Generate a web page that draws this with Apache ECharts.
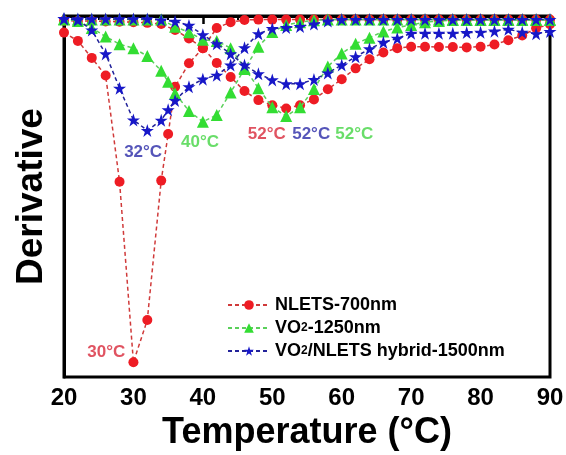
<!DOCTYPE html>
<html>
<head>
<meta charset="utf-8">
<script src="https://cdn.jsdelivr.net/npm/echarts@6/dist/echarts.min.js"></script>
<style>
html,body{margin:0;padding:0;background:#fff;}
#chart{width:566px;height:455px;}
</style>
</head>
<body>
<div id="chart"></div>
<script>
// Temperatures (°C)
const tempA = [20,22,24,26,28,30,32,34,35,36,38,40,42,44,46,48,50,52,54,56,58,60,62,64,66,68,70,72,74,76,78,80,82,84,86,88,90];
const tempB = [20,22,24,26,28,30,32,34,36,38,40,42,44,46,48,50,52,54,56,58,60,62,64,66,68,70,72,74,76,78,80,82,84,86,88,90];

// NLETS-700nm (two traces)
const nletsA = [-4.6,-6.9,-11.6,-16.5,-45.9,-95.9,-84.2,-45.6,-32.7,-19.6,-13.1,-8.9,-3.3,-1.7,-1.1,-1.0,-1.0,-1.0,-1.0,-1.0,-1.0,-1.0,-1.0,-1.0,-1.0,-1.0,-1.0,-1.0,-1.0,-1.0,-1.0,-1.0,-1.0,-1.0,-1.0,-1.0,-1.0];
const nletsB = [-1.3,-1.4,-1.4,-1.5,-1.6,-1.7,-1.9,-2.2,-3.9,-6.2,-8.9,-13.0,-16.9,-20.8,-23.3,-24.7,-25.6,-24.7,-23.1,-20.3,-17.5,-14.5,-12.0,-10.1,-8.9,-8.5,-8.5,-8.6,-8.6,-8.7,-8.5,-7.9,-6.7,-5.4,-3.4,-2.3];

// VO2-1250nm (two traces)
const vo2A = [-0.8,-1.4,-3.3,-5.7,-7.8,-8.9,-11.1,-15.2,-18.2,-21.4,-26.3,-29.3,-27.4,-21.2,-14.7,-8.5,-4.4,-2.5,-1.7,-1.2,-1.0,-1.0,-1.0,-1.0,-1.0,-1.0,-1.0,-1.0,-1.0,-1.0,-1.0,-1.0,-1.0,-1.0,-1.0,-1.0,-1.0];
const vo2B = [-1.0,-1.0,-1.0,-1.0,-1.0,-1.0,-1.0,-1.0,-3.0,-4.5,-6.6,-6.9,-8.9,-14.4,-20.0,-25.3,-27.7,-25.3,-20.2,-14.0,-10.4,-7.7,-6.0,-4.3,-3.2,-2.5,-1.7,-1.4,-1.1,-1.1,-1.1,-1.1,-1.1,-1.1,-1.1,-1.1];

// VO2/NLETS hybrid-1500nm (two traces)
const hybridA = [-0.7,-1.1,-3.9,-10.5,-20.0,-28.8,-31.7,-28.9,-26.0,-23.4,-19.6,-17.5,-16.4,-13.6,-8.8,-4.9,-3.5,-3.2,-2.9,-2.2,-1.4,-1.0,-1.0,-1.0,-1.0,-1.0,-1.0,-1.0,-1.0,-1.0,-1.0,-1.0,-1.0,-1.0,-1.0,-1.0,-1.0];
const hybridB = [-0.8,-0.8,-0.8,-0.8,-0.8,-0.8,-0.8,-1.1,-1.5,-2.6,-5.2,-7.7,-10.5,-13.6,-16.0,-17.7,-18.8,-18.8,-17.6,-15.8,-13.6,-11.3,-9.1,-7.3,-6.2,-4.8,-4.8,-4.8,-4.8,-4.6,-4.5,-4.2,-3.7,-4.5,-4.9,-4.3];

const seriesNames = ['NLETS-700nm','VO2-1250nm','VO2/NLETS hybrid-1500nm'];
const xTicks = [20,30,40,50,60,70,80,90];

// Peak annotations: [temperature, value, text]
const annRed = [[26.1,-93.1,'30°C'],[49.2,-32.7,'52°C']];
const annBlue = [[31.4,-37.7,'32°C'],[55.6,-32.7,'52°C']];
const annGreen = [[39.6,-34.9,'40°C'],[61.8,-32.7,'52°C']];

const FF = '"Liberation Sans", Arial, sans-serif';
const zip = (xs, ys) => xs.map((x, i) => [x, ys[i]]);

const RED = '#ee1c24', GREEN = '#33dd33', BLUE = '#1717c8';
const styles = [
  {color: RED, line: '#d03a3a', symbol: 'circle', size: 10},
  {color: GREEN, line: '#5ad05a', symbol: 'triangle', size: 12},
  {color: BLUE, line: '#22229a', symbol: 'path://M50,0 L61.8,36.2 L100,36.2 L69.1,58.8 L80.9,95.1 L50,72.7 L19.1,95.1 L30.9,58.8 L0,36.2 L38.2,36.2 Z', size: 13}
];
const dataSets = [[nletsA, nletsB], [vo2A, vo2B], [hybridA, hybridB]];

const series = [];
dataSets.forEach((pair, k) => {
  const st = styles[k];
  [[tempA, pair[0]], [tempB, pair[1]]].forEach(([xs, ys]) => {
    series.push({
      name: seriesNames[k],
      type: 'line',
      data: zip(xs, ys),
      symbol: st.symbol,
      symbolSize: st.size,
      itemStyle: {color: st.color},
      lineStyle: {color: st.line, width: 1.5, type: [4, 3]},
      z: 2 + k
    });
  });
});

function annSeries(arr, color) {
  return {
    type: 'scatter', silent: true, symbolSize: 0, z: 10,
    data: arr.map(a => ({value: [a[0], a[1]], name: a[2]})),
    label: {
      show: true, position: 'inside',
      formatter: p => p.name,
      color: color, fontSize: 17, fontWeight: 'bold', fontFamily: FF
    }
  };
}
series.push(annSeries(annRed, '#d8283a'));
series.push(annSeries(annBlue, '#2a2aa8'));
series.push(annSeries(annGreen, '#44d444'));

const chart = echarts.init(document.getElementById('chart'), null, {renderer: 'canvas'});
chart.setOption({
  animation: false,
  backgroundColor: '#fff',
  grid: {left: 64, right: 16, top: 16, bottom: 78, show: true, borderColor: '#000', borderWidth: 3, outerBoundsMode: 'none', containLabel: false},
  legend: {
    data: seriesNames,
    orient: 'vertical',
    left: 222, top: 291,
    itemWidth: 42, itemHeight: 12, itemGap: 5,
    formatter: n => n.replace(/VO2/g, 'VO{s|2}'),
    textStyle: {
      fontSize: 18, fontWeight: 'bold', color: '#000', fontFamily: FF,
      rich: {s: {fontSize: 12, fontWeight: 'bold', color: '#000', fontFamily: FF}}
    }
  },
  xAxis: {
    type: 'value', min: 20, max: 90, interval: 10,
    axisLine: {show: true, lineStyle: {color: '#000', width: 3}},
    axisTick: {show: true, length: 8, lineStyle: {color: '#000', width: 2.5}},
    minorTick: {show: true, splitNumber: 2, length: 4, lineStyle: {color: '#000', width: 2}},
    splitLine: {show: false},
    axisLabel: {
      fontSize: 24, fontWeight: 'bold', color: '#000', fontFamily: FF, margin: 9,
      formatter: v => xTicks.includes(v) ? String(v) : ''
    },
    name: 'Temperature (°C)',
    nameLocation: 'middle', nameGap: 35,
    nameTextStyle: {fontSize: 36, fontWeight: 'bold', color: '#000', fontFamily: FF, verticalAlign: 'top'}
  },
  yAxis: {
    type: 'value', min: -100, max: 0,
    axisLine: {show: true, lineStyle: {color: '#000', width: 3}},
    axisTick: {show: false}, axisLabel: {show: false}, splitLine: {show: false},
    name: 'Derivative', nameLocation: 'middle', nameGap: 14,
    nameTextStyle: {fontSize: 37, fontWeight: 'bold', color: '#000', fontFamily: FF}
  },
  series: series
});
</script>
</body>
</html>
